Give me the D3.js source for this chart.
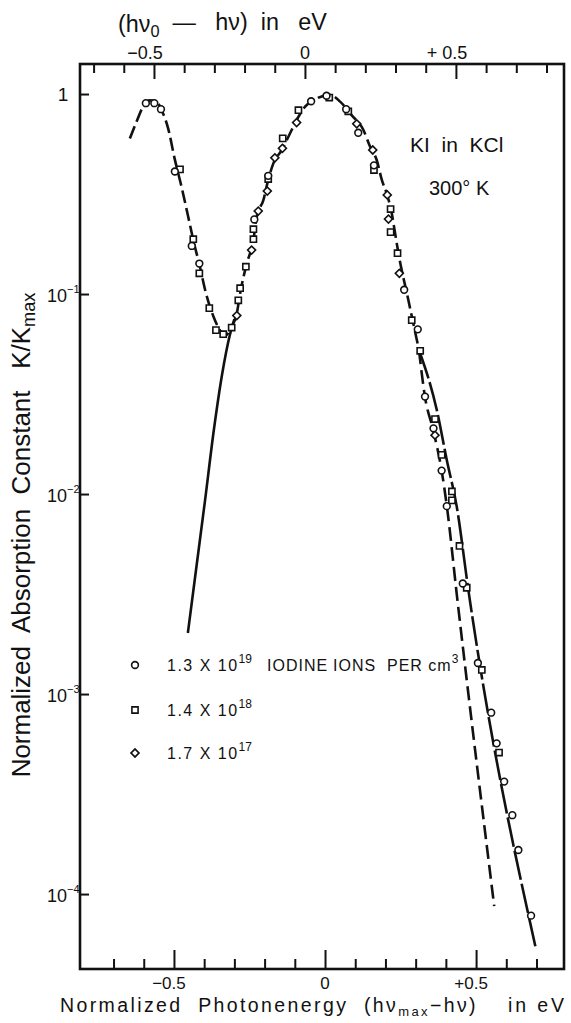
<!DOCTYPE html>
<html lang="en">
<head>
<meta charset="UTF-8">
<title>KI in KCl absorption</title>
<script src="https://cdn.jsdelivr.net/npm/d3@7"></script>
<style>
  body { margin: 0; background: #fff; }
  svg text { font-family: "Liberation Sans", Arial, sans-serif; fill: #111; white-space: pre; }
</style>
</head>
<body>
<svg id="chart" width="571" height="1023"></svg>
<script>
// measured points: [normalized photon energy (eV), K/Kmax]
const circles = [
  [-0.593, 0.90], [-0.565, 0.90], [-0.543, 0.84], [-0.497, 0.41], [-0.441, 0.174],
  [-0.416, 0.142], [-0.234, 0.236], [-0.188, 0.39], [-0.046, 0.92], [0.005, 0.98],
  [0.07, 0.84], [0.11, 0.64], [0.162, 0.44], [0.262, 0.105], [0.307, 0.0666],
  [0.331, 0.0307], [0.359, 0.0213], [0.386, 0.0131], [0.403, 0.0087], [0.456, 0.00357],
  [0.506, 0.00143], [0.55, 0.000807], [0.568, 0.000567], [0.593, 0.000365],
  [0.62, 0.000248], [0.64, 0.000166], [0.682, 0.000078]
];
const squares = [
  [-0.48, 0.42], [-0.436, 0.188], [-0.416, 0.127], [-0.383, 0.085], [-0.361, 0.066],
  [-0.337, 0.063], [-0.309, 0.068], [-0.287, 0.093], [-0.281, 0.107], [-0.262, 0.137],
  [-0.237, 0.188], [-0.237, 0.211], [-0.188, 0.376], [-0.14, 0.60], [-0.088, 0.83],
  [0.014, 0.96], [0.077, 0.82], [0.162, 0.417], [0.217, 0.266], [0.217, 0.204],
  [0.24, 0.16], [0.287, 0.074], [0.315, 0.052], [0.364, 0.0237], [0.386, 0.0157],
  [0.42, 0.0103], [0.42, 0.0093], [0.445, 0.0055], [0.469, 0.0034], [0.519, 0.00132],
  [0.576, 0.00051]
];
const diamonds = [
  [-0.292, 0.078], [-0.243, 0.166], [-0.221, 0.26], [-0.191, 0.327], [-0.166, 0.48],
  [-0.141, 0.535], [-0.094, 0.72], [0.105, 0.71], [0.158, 0.525], [0.206, 0.313],
  [0.21, 0.237], [0.246, 0.127], [0.364, 0.0197]
];

// drawn curves
const mainCurve = [
  [-0.646, 0.60], [-0.624, 0.727], [-0.602, 0.865], [-0.58, 0.93], [-0.56, 0.92],
  [-0.536, 0.80], [-0.52, 0.68], [-0.497, 0.47], [-0.475, 0.344], [-0.453, 0.244],
  [-0.436, 0.186], [-0.414, 0.137], [-0.397, 0.105], [-0.369, 0.077], [-0.348, 0.066],
  [-0.33, 0.062], [-0.309, 0.0687], [-0.292, 0.080], [-0.281, 0.1007], [-0.259, 0.142],
  [-0.237, 0.186], [-0.226, 0.244], [-0.204, 0.295], [-0.188, 0.372], [-0.171, 0.45],
  [-0.143, 0.525], [-0.116, 0.635], [-0.094, 0.741], [-0.066, 0.865], [-0.028, 0.95],
  [0.017, 0.99], [0.05, 0.916], [0.088, 0.785], [0.127, 0.661], [0.149, 0.546],
  [0.171, 0.468], [0.188, 0.372], [0.204, 0.318], [0.221, 0.253], [0.232, 0.201],
  [0.243, 0.16], [0.276, 0.093], [0.311, 0.0525]
];
const steepBranch = [
  [0.311, 0.0525], [0.331, 0.0305], [0.358, 0.0209], [0.386, 0.0131], [0.403, 0.00875],
  [0.436, 0.00316], [0.56, 0.000087]
];
const shallowBranch = [
  [0.311, 0.0525], [0.37, 0.0263], [0.403, 0.0148], [0.436, 0.00865], [0.4745, 0.00331],
  [0.699, 0.0000525]
];
const solidTail = [
  [-0.454, 0.00202], [-0.427, 0.00417], [-0.397, 0.00933], [-0.368, 0.0209],
  [-0.341, 0.0394], [-0.315, 0.0624], [-0.30, 0.075]
];

// axes
const bottomTicks = d3.range(-7, 8).map(i => i / 10);
const topTicks = d3.range(-7, 9).map(i => i / 10);
const majorTicks = [-0.5, 0, 0.5];
const bottomLabels = ["\u22120.5", "0", "+0.5"];
const topLabels = ["\u22120.5", "0", "+ 0.5"];
const yTicks = [1, 1e-1, 1e-2, 1e-3, 1e-4];
const yExponents = ["", "\u22121", "\u22122", "\u22123", "\u22124"];

const legendItems = [
  { shape: "circle", base: "1.3 X 10", exp: "19" },
  { shape: "square", base: "1.4 X 10", exp: "18" },
  { shape: "diamond", base: "1.7 X 10", exp: "17" }
];

const svg = d3.select("#chart");
const pLeft = 80, pRight = 564, pTop = 64, pBottom = 969;

const x = d3.scaleLinear().domain([-0.811, 0.791]).range([pLeft, pRight]);
const xTop = d3.scaleLinear().domain([-0.745, 0.858]).range([pLeft, pRight]);
const y = d3.scaleLog().domain([1.413, 4.22e-5]).range([pTop, pBottom]);

const isMajor = v => majorTicks.some(m => Math.abs(m - v) < 1e-6);

function tickGroup(axis, tf) {
  const g = svg.append("g").attr("transform", tf).call(axis);
  g.select(".domain").remove();
  g.selectAll("line").attr("stroke", "#111").attr("stroke-width", 2);
  return g;
}

// bottom ticks (pointing up)
tickGroup(d3.axisBottom(x).tickValues(bottomTicks.filter(v => !isMajor(v))).tickSize(-10).tickFormat(""),
  `translate(0,${pBottom})`);
tickGroup(d3.axisBottom(x).tickValues(majorTicks).tickSize(-19).tickFormat(""),
  `translate(0,${pBottom})`);
// top ticks (pointing down)
tickGroup(d3.axisTop(xTop).tickValues(topTicks.filter(v => !isMajor(v))).tickSize(-9).tickFormat(""),
  `translate(0,${pTop})`);
tickGroup(d3.axisTop(xTop).tickValues(majorTicks).tickSize(-15).tickFormat(""),
  `translate(0,${pTop})`);
// left ticks
tickGroup(d3.axisLeft(y).tickValues(yTicks).tickSize(-9).tickFormat(""),
  `translate(${pLeft},0)`);

// frame
svg.append("rect")
  .attr("x", pLeft).attr("y", pTop)
  .attr("width", pRight - pLeft).attr("height", pBottom - pTop)
  .attr("fill", "none").attr("stroke", "#111").attr("stroke-width", 2.6);

// tick labels
svg.selectAll(".blab").data(majorTicks).enter().append("text")
  .attr("x", d => x(d) + (d === 0 ? 0 : -5))
  .attr("y", 989)
  .attr("text-anchor", "middle")
  .attr("font-size", 17)
  .text((d, i) => bottomLabels[i]);

svg.selectAll(".tlab").data(majorTicks).enter().append("text")
  .attr("x", d => xTop(d) + (d === 0 ? 0 : -9))
  .attr("y", 59)
  .attr("text-anchor", "middle")
  .attr("font-size", 18)
  .text((d, i) => topLabels[i]);

yTicks.forEach((v, i) => {
  if (i === 0) {
    svg.append("text").attr("x", 63).attr("y", y(v) + 7)
      .attr("text-anchor", "middle").attr("font-size", 19).text("1");
  } else {
    const t = svg.append("text").attr("x", 47).attr("y", y(v) + 8).attr("font-size", 18);
    t.append("tspan").text("10");
    t.append("tspan").attr("dy", -9).attr("font-size", 11).text(yExponents[i]);
  }
});

// curves
const line = d3.line().x(d => x(d[0])).y(d => y(d[1])).curve(d3.curveMonotoneX);
const curveStyles = [
  { data: mainCurve, dash: "13,5" },
  { data: steepBranch, dash: "14,6" },
  { data: shallowBranch, dash: "30,4" },
  { data: solidTail, dash: null }
];
curveStyles.forEach(c => {
  svg.append("path")
    .attr("d", line(c.data))
    .attr("fill", "none")
    .attr("stroke", "#111")
    .attr("stroke-width", 2.6)
    .attr("stroke-dasharray", c.dash);
});

// markers
const symCircle = d3.symbol(d3.symbolCircle, 36)();
const symSquare = d3.symbol(d3.symbolSquare, 38)();
const symDiamond = d3.symbol(d3.symbolSquare, 32)();
const shapes = { circle: [symCircle, 0], square: [symSquare, 0], diamond: [symDiamond, 45] };

function drawMarkers(data, shape) {
  const [p, rot] = shapes[shape];
  svg.append("g").selectAll("path").data(data).enter().append("path")
    .attr("d", p)
    .attr("transform", d => `translate(${x(d[0])},${y(d[1])}) rotate(${rot})`)
    .attr("fill", "#fff")
    .attr("stroke", "#111")
    .attr("stroke-width", 1.6);
}
drawMarkers(squares, "square");
drawMarkers(diamonds, "diamond");
drawMarkers(circles, "circle");

// legend
const legendY = [668, 713, 756];
legendItems.forEach((it, i) => {
  const [p, rot] = shapes[it.shape];
  svg.append("path").attr("d", p)
    .attr("transform", `translate(135,${legendY[i] - 3}) rotate(${rot})`)
    .attr("fill", "#fff").attr("stroke", "#111").attr("stroke-width", 1.6);
  const t = svg.append("text").attr("x", 167).attr("y", legendY[i] + 3)
    .attr("font-size", 16).attr("letter-spacing", 1.5);
  t.append("tspan").text(it.base);
  t.append("tspan").attr("dy", -8).attr("font-size", 12).attr("letter-spacing", 0).text(it.exp);
});
svg.append("text").attr("x", 267).attr("y", legendY[0] + 3).attr("font-size", 16)
  .attr("letter-spacing", 1).text("IODINE");
const per = svg.append("text").attr("x", 333).attr("y", legendY[0] + 3).attr("font-size", 16)
  .attr("letter-spacing", 1);
per.append("tspan").text("IONS  PER cm");
per.append("tspan").attr("dy", -8).attr("font-size", 12).text("3");

// annotation
svg.append("text").attr("x", 410).attr("y", 152).attr("font-size", 21).text("KI  in  KCl");
svg.append("text").attr("x", 429).attr("y", 195).attr("font-size", 20).text("300\u00b0 K");

// fit a text element to a width by scaling its font size
function fit(t, w) {
  const fs = parseFloat(t.attr("font-size"));
  t.attr("font-size", fs * w / t.node().getComputedTextLength());
}
// fit by letter spacing at a fixed font size
function spread(t, w) {
  const len = t.node().getComputedTextLength();
  const n = t.text().length;
  t.attr("letter-spacing", (w - len) / n);
}

// top title
const tt = svg.append("text").attr("x", 118).attr("y", 32).attr("font-size", 18);
tt.append("tspan").text("(h\u03bd");
tt.append("tspan").attr("dy", "0.3em").attr("font-size", "70%").text("0");
tt.append("tspan").attr("dy", "-0.3em").text("  \u2014   h\u03bd)  in   eV");
fit(tt, 209);

// bottom title
const bt = svg.append("text").attr("x", 60).attr("y", 1012).attr("font-size", 19.5);
bt.append("tspan").text("Normalized  Photonenergy  (h\u03bd");
bt.append("tspan").attr("dy", 4).attr("font-size", 13).text("max");
bt.append("tspan").attr("dy", -4).text("\u2212h\u03bd)");
spread(bt, 418);
const ev = svg.append("text").attr("x", 508).attr("y", 1012).attr("font-size", 19.5).text("in eV");
spread(ev, 59);

// y title
const yt = svg.append("text")
  .attr("transform", "translate(30,535) rotate(-90)")
  .attr("text-anchor", "middle")
  .attr("font-size", 19);
yt.append("tspan").text("Normalized  Absorption  Constant   K/K");
yt.append("tspan").attr("dy", "0.3em").attr("font-size", "70%").text("max");
fit(yt, 485);
</script>
</body>
</html>
